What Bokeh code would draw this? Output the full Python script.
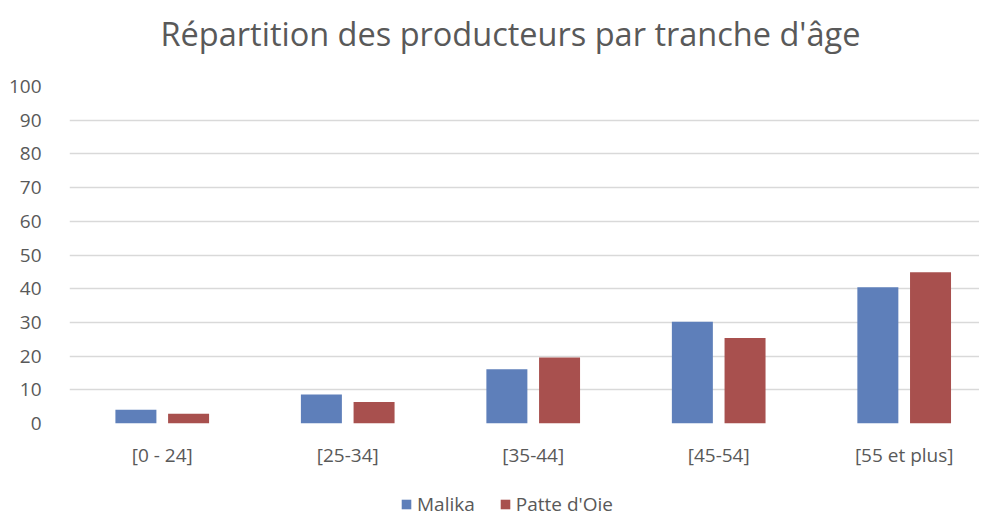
from bokeh.plotting import figure
from bokeh.layouts import column
from bokeh.models import ColumnDataSource, Range1d, FixedTicker, Legend, LegendItem, Label
from bokeh.transform import dodge
from bokeh.embed import file_html
from bokeh.resources import INLINE

title_text = "Répartition des producteurs par tranche d'âge"
categories = ["[0 - 24]", "[25-34]", "[35-44]", "[45-54]", "[55 et plus]"]
malika = [4.1, 8.6, 16.1, 30.2, 40.4]
patte_doie = [2.9, 6.4, 19.6, 25.4, 44.9]
y_ticks = [0, 10, 20, 30, 40, 50, 60, 70, 80, 90, 100]
series_names = ["Malika", "Patte d'Oie"]
series_colors = ["#5E7FBA", "#A8504E"]

FONT = "Open Sans"
TXT = "#595959"


def blank(h):
    f = figure(width=979, height=h, output_backend="svg", toolbar_location=None,
               x_range=Range1d(0, 1), y_range=Range1d(0, 1),
               min_border_left=69, min_border_right=0, min_border_top=0, min_border_bottom=0)
    f.axis.visible = False
    f.grid.visible = False
    f.outline_line_color = None
    return f


# title strip
t = blank(60)
t.add_layout(Label(x=0.4846, y=0.45, text=title_text, text_align="center",
                   text_baseline="middle", text_font=FONT, text_font_size="32.5px",
                   text_color=TXT))

src = ColumnDataSource(dict(x=list(range(len(categories))), malika=malika, patte=patte_doie))

p = figure(width=979, height=410, output_backend="svg", toolbar_location=None,
           x_range=Range1d(-0.5, 4.406), y_range=Range1d(0, 100),
           min_border_left=69, min_border_right=0, min_border_top=26, min_border_bottom=47)

r1 = p.vbar(x=dodge("x", -0.142, range=p.x_range), top="malika", width=0.221, source=src,
            fill_color=series_colors[0], line_color=None)
r2 = p.vbar(x=dodge("x", 0.142, range=p.x_range), top="patte", width=0.221, source=src,
            fill_color=series_colors[1], line_color=None)

p.xaxis.ticker = FixedTicker(ticks=list(range(len(categories))))
p.xaxis.major_label_overrides = {i: c for i, c in enumerate(categories)}
p.yaxis.ticker = FixedTicker(ticks=y_ticks)
for ax in (p.xaxis, p.yaxis):
    ax.axis_line_color = None
    ax.major_tick_line_color = None
    ax.minor_tick_line_color = None
    ax.major_label_text_font = FONT
    ax.major_label_text_color = TXT
    ax.major_label_text_font_size = "19px"
p.xaxis.major_label_standoff = 12
p.yaxis.major_label_standoff = 22

p.xgrid.grid_line_color = None
p.ygrid.grid_line_color = "#D9D9D9"
p.ygrid.grid_line_width = 1.5
p.outline_line_color = None

# legend strip (frames are aligned with the chart frame by the column layout)
q = blank(47)
lr = [q.vbar(x=[-5], top=[-5], bottom=[-6], width=0.1, fill_color=c, line_color=None)
      for c in series_colors]
legend = Legend(items=[LegendItem(label=n, renderers=[r]) for n, r in zip(series_names, lr)],
                orientation="horizontal", location=(331, 0),
                label_text_font=FONT, label_text_font_size="19px", label_text_color=TXT,
                glyph_width=12, glyph_height=12, spacing=24, label_standoff=5,
                border_line_color=None, background_fill_alpha=0, padding=0, margin=0)
q.add_layout(legend, "center")

open("out.html", "w").write(file_html(column(t, p, q, spacing=0), INLINE))
